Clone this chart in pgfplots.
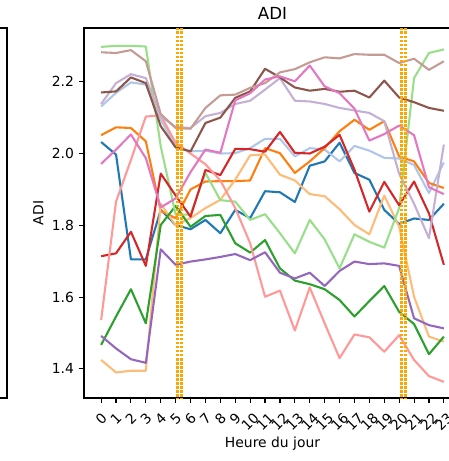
\documentclass[border=0pt]{standalone}
\usepackage{fontspec}
\setmainfont{DejaVu Sans}
\usepackage{graphicx}
\usepackage{pgfplots}
\pgfplotsset{compat=1.18}
\definecolor{c1}{HTML}{1F77B4}
\definecolor{c2}{HTML}{AEC7E8}
\definecolor{c3}{HTML}{FF7F0E}
\definecolor{c4}{HTML}{FFBB78}
\definecolor{c5}{HTML}{2CA02C}
\definecolor{c6}{HTML}{98DF8A}
\definecolor{c7}{HTML}{D62728}
\definecolor{c8}{HTML}{FF9896}
\definecolor{c9}{HTML}{9467BD}
\definecolor{c10}{HTML}{C5B0D5}
\definecolor{c11}{HTML}{8C564B}
\definecolor{c12}{HTML}{C49C94}
\definecolor{c13}{HTML}{E377C2}
\definecolor{vlc}{HTML}{FFA500}
\newcommand\rl[1]{\rotatebox{45}{#1}}
\begin{document}
\begin{tikzpicture}
\begin{axis}[
  at={(60.48pt,-286.56pt)}, anchor=south west,
  width=271.44pt, height=266.4pt, scale only axis,
  xmin=-1.15, xmax=24.15, ymin=1.319, ymax=2.3496,
  xtick={0,1,...,23},
  xticklabels={\rl{0},\rl{1},\rl{2},\rl{3},\rl{4},\rl{5},\rl{6},\rl{7},\rl{8},\rl{9},\rl{10},\rl{11},\rl{12},\rl{13},\rl{14},\rl{15},\rl{16},\rl{17},\rl{18},\rl{19},\rl{20},\rl{21},\rl{22},\rl{23}},
  ytick={1.4,1.6,1.8,2.0,2.2},
  yticklabel style={/pgf/number format/.cd, fixed, fixed zerofill, precision=1, assume math mode=true, /tikz/.cd, anchor=east, inner sep=0pt, xshift=-3.5pt},
  xticklabel style={anchor=north, inner sep=0pt, yshift=-6.5pt},
  tick label style={font=\fontsize{10}{12}\selectfont},
  tick align=outside, xtick pos=bottom, ytick pos=left,
  major tick length=3.5pt,
  every tick/.style={black, line width=0.8pt},
  axis line style={line width=0.8pt},
  title={ADI},
  title style={font=\fontsize{12}{14.4}\selectfont, at={(axis description cs:0.5,1.0)}, anchor=base, inner sep=0pt},
  xlabel={Heure du jour},
  ylabel={ADI},
  label style={font=\fontsize{10}{12}\selectfont, inner sep=0pt},
  xlabel style={at={(axis description cs:0.5,-0.135)}, anchor=base},
  ylabel style={at={(axis description cs:-0.108,0.5)}, anchor=base},
  every axis plot/.append style={line width=1.5pt, line join=round, mark=none},
]
\addplot[c1] coordinates {(0,2.032)(1,1.997)(2,1.705)(3,1.705)(4,1.843)(5,1.801)(6,1.789)(7,1.815)(8,1.778)(9,1.843)(10,1.820)(11,1.895)(12,1.892)(13,1.865)(14,1.966)(15,1.978)(16,2.030)(17,1.946)(18,1.927)(19,1.843)(20,1.804)(21,1.819)(22,1.815)(23,1.860)};
\addplot[c2] coordinates {(0,2.131)(1,2.169)(2,2.198)(3,2.192)(4,2.094)(5,2.020)(6,2.006)(7,2.008)(8,2.000)(9,2.001)(10,2.015)(11,2.041)(12,2.041)(13,1.992)(14,2.015)(15,2.011)(16,1.978)(17,2.021)(18,2.008)(19,1.988)(20,1.986)(21,1.968)(22,1.890)(23,1.975)};
\addplot[c3] coordinates {(0,2.051)(1,2.073)(2,2.071)(3,2.034)(4,1.840)(5,1.820)(6,1.900)(7,1.922)(8,1.923)(9,1.923)(10,1.925)(11,2.015)(12,2.001)(13,1.946)(14,1.978)(15,2.015)(16,2.062)(17,2.094)(18,2.066)(19,2.090)(20,1.992)(21,1.978)(22,1.918)(23,1.904)};
\addplot[c4] coordinates {(0,1.425)(1,1.390)(2,1.395)(3,1.395)(4,1.860)(5,1.800)(6,1.820)(7,1.848)(8,1.871)(9,1.927)(10,1.995)(11,1.997)(12,1.941)(13,1.925)(14,1.887)(15,1.881)(16,1.845)(17,1.801)(18,1.775)(19,1.883)(20,1.796)(21,1.601)(22,1.490)(23,1.476)};
\addplot[c5] coordinates {(0,1.467)(1,1.546)(2,1.622)(3,1.527)(4,1.801)(5,1.854)(6,1.796)(7,1.826)(8,1.829)(9,1.750)(10,1.724)(11,1.759)(12,1.680)(13,1.646)(14,1.636)(15,1.622)(16,1.592)(17,1.546)(18,1.589)(19,1.631)(20,1.559)(21,1.525)(22,1.441)(23,1.490)};
\addplot[c6] coordinates {(0,2.297)(1,2.300)(2,2.300)(3,2.298)(4,2.020)(5,1.830)(6,1.830)(7,1.946)(8,1.870)(9,1.866)(10,1.815)(11,1.831)(12,1.778)(13,1.722)(14,1.815)(15,1.761)(16,1.680)(17,1.775)(18,1.754)(19,1.738)(20,1.848)(21,2.210)(22,2.280)(23,2.290)};
\addplot[c7] coordinates {(0,1.714)(1,1.722)(2,1.782)(3,1.687)(4,1.944)(5,1.883)(6,1.824)(7,1.954)(8,1.940)(9,2.013)(10,2.012)(11,2.005)(12,2.060)(13,2.002)(14,2.000)(15,2.019)(16,2.052)(17,1.955)(18,1.838)(19,1.921)(20,1.856)(21,1.922)(22,1.833)(23,1.690)};
\addplot[c8] coordinates {(0,1.536)(1,1.866)(2,1.982)(3,2.103)(4,2.106)(5,2.030)(6,2.000)(7,1.970)(8,1.925)(9,1.848)(10,1.750)(11,1.601)(12,1.618)(13,1.507)(14,1.627)(15,1.527)(16,1.430)(17,1.496)(18,1.488)(19,1.448)(20,1.494)(21,1.425)(22,1.380)(23,1.364)};
\addplot[c9] coordinates {(0,1.492)(1,1.457)(2,1.427)(3,1.417)(4,1.733)(5,1.690)(6,1.699)(7,1.705)(8,1.712)(9,1.720)(10,1.703)(11,1.725)(12,1.668)(13,1.652)(14,1.668)(15,1.631)(16,1.673)(17,1.699)(18,1.692)(19,1.694)(20,1.687)(21,1.541)(22,1.522)(23,1.513)};
\addplot[c10] coordinates {(0,2.138)(1,2.196)(2,2.221)(3,2.210)(4,2.104)(5,2.074)(6,2.071)(7,2.104)(8,2.113)(9,2.138)(10,2.147)(11,2.178)(12,2.210)(13,2.147)(14,2.145)(15,2.138)(16,2.127)(17,2.120)(18,2.113)(19,2.090)(20,1.943)(21,1.860)(22,1.764)(23,2.025)};
\addplot[c11] coordinates {(0,2.170)(1,2.173)(2,2.212)(3,2.196)(4,2.076)(5,2.017)(6,2.006)(7,2.085)(8,2.100)(9,2.155)(10,2.173)(11,2.236)(12,2.212)(13,2.184)(14,2.175)(15,2.180)(16,2.172)(17,2.175)(18,2.156)(19,2.203)(20,2.156)(21,2.143)(22,2.127)(23,2.119)};
\addplot[c12] coordinates {(0,2.282)(1,2.280)(2,2.288)(3,2.257)(4,2.110)(5,2.071)(6,2.069)(7,2.127)(8,2.162)(9,2.164)(10,2.183)(11,2.196)(12,2.226)(13,2.235)(14,2.254)(15,2.268)(16,2.265)(17,2.277)(18,2.275)(19,2.275)(20,2.252)(21,2.264)(22,2.233)(23,2.257)};
\addplot[c13] coordinates {(0,1.971)(1,2.011)(2,2.053)(3,1.987)(4,1.850)(5,1.875)(6,1.948)(7,2.011)(8,2.002)(9,2.148)(10,2.168)(11,2.206)(12,2.215)(13,2.201)(14,2.245)(15,2.187)(16,2.168)(17,2.125)(18,2.036)(19,2.054)(20,2.078)(21,2.051)(22,1.906)(23,1.887)};
\addplot[vlc, line width=2.2pt, line cap=butt, dash pattern=on 2pt off 0.9pt] coordinates {(5.14,1.30)(5.14,2.40)};
\addplot[vlc, line width=2.2pt, line cap=butt, dash pattern=on 2pt off 0.9pt] coordinates {(5.37,1.30)(5.37,2.40)};
\addplot[vlc, line width=2.2pt, line cap=butt, dash pattern=on 2pt off 0.9pt] coordinates {(20.14,1.30)(20.14,2.40)};
\addplot[vlc, line width=2.2pt, line cap=butt, dash pattern=on 2pt off 0.9pt] coordinates {(20.42,1.30)(20.42,2.40)};
\end{axis}
\draw[line width=0.8pt] (-3pt,-20.16pt) -- (5.04pt,-20.16pt) -- (5.04pt,-286.56pt) -- (-3pt,-286.56pt);
\pgfresetboundingbox
\path[use as bounding box] (0,0) rectangle (323.28pt,-331.92pt);
\end{tikzpicture}
\end{document}
